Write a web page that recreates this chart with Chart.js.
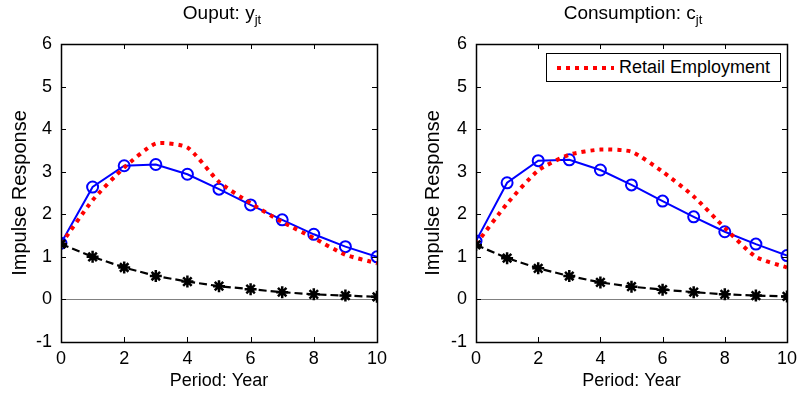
<!DOCTYPE html>
<html>
<head>
<meta charset="utf-8">
<script src="https://cdn.jsdelivr.net/npm/chart.js@4"></script>
<style>
  body { margin: 0; background: #fff; width: 803px; height: 394px; position: relative; overflow: hidden; font-family: "Liberation Sans", Arial, sans-serif; }
  .panel { position: absolute; top: 0; }
  .title { position: absolute; top: 2px; font-size: 19px; color: #000; text-align: center; white-space: nowrap; transform: translateX(-50%); }
  .title sub { font-size: 13px; }
  #legend { position: absolute; left: 546px; top: 53px; width: 233px; height: 27px; border: 1px solid #000; background: #fff; font-size: 18px; }
  #legend .swatch { position: absolute; left: 10px; top: 12px; width: 57px; height: 4px;
    background: repeating-linear-gradient(to right, #ff0000 0 4px, transparent 4px 9px); }
  #legend .txt { position: absolute; left: 72px; top: 3px; white-space: nowrap; }
</style>
</head>
<body>
<div class="panel" style="left:0"><canvas id="chartY" width="400" height="394"></canvas></div>
<div class="panel" style="left:400px"><canvas id="chartC" width="403" height="394"></canvas></div>
<div class="title" style="left:222px">Ouput: y<sub>jt</sub></div>
<div class="title" style="left:633px">Consumption: c<sub>jt</sub></div>
<div id="legend"><span class="swatch"></span><span class="txt">Retail Employment</span></div>
<script>
// periodes (annees)
const periods = [0, 1, 2, 3, 4, 5, 6, 7, 8, 9, 10];
const xTicks = [0, 2, 4, 6, 8, 10];
const yTicks = [-1, 0, 1, 2, 3, 4, 5, 6];

// panneau gauche: output
const outputModel = [1.32, 2.64, 3.14, 3.17, 2.94, 2.59, 2.22, 1.87, 1.53, 1.24, 1.0];
const outputRetail = [1.3, 2.33, 3.1, 3.66, 3.57, 2.76, 2.26, 1.82, 1.44, 1.05, 0.85];
const outputBench = [1.3, 1.0, 0.75, 0.55, 0.42, 0.31, 0.24, 0.17, 0.12, 0.09, 0.06];

// panneau droit: consumption
const consModel = [1.37, 2.74, 3.26, 3.28, 3.04, 2.69, 2.31, 1.94, 1.59, 1.3, 1.03];
const consRetail = [1.3, 2.25, 3.03, 3.4, 3.52, 3.47, 3.0, 2.42, 1.68, 1.0, 0.75];
const consBench = [1.28, 0.97, 0.73, 0.55, 0.4, 0.3, 0.23, 0.17, 0.12, 0.09, 0.07];

const font = "'Liberation Sans', Arial, sans-serif";

// boite + petites graduations vers l'interieur (style matlab)
const boxPlugin = {
  id: "box",
  afterDraw(chart) {
    const { ctx, chartArea: a, scales } = chart;
    ctx.save();
    ctx.strokeStyle = "#000";
    ctx.lineWidth = 1;
    ctx.beginPath();
    xTicks.forEach((v) => {
      const x = Math.round(scales.x.getPixelForValue(v)) + 0.5;
      ctx.moveTo(x, a.bottom); ctx.lineTo(x, a.bottom - 5);
      ctx.moveTo(x, a.top); ctx.lineTo(x, a.top + 5);
    });
    yTicks.forEach((v) => {
      const y = Math.round(scales.y.getPixelForValue(v)) + 0.5;
      ctx.moveTo(a.left, y); ctx.lineTo(a.left + 5, y);
      ctx.moveTo(a.right, y); ctx.lineTo(a.right - 5, y);
    });
    ctx.stroke();
    ctx.lineWidth = 1.5;
    ctx.strokeRect(Math.round(a.left) + 0.5, Math.round(a.top) + 0.5, Math.round(a.right - a.left), Math.round(a.bottom - a.top));
    ctx.restore();
  },
};

function makeChart(id, model, retail, bench, yWidth, titlePad, rightPad) {
  return new Chart(document.getElementById(id), {
    type: "line",
    data: {
      datasets: [
        {
          label: "Model",
          data: periods.map((p, i) => ({ x: p, y: model[i] })),
          borderColor: "#0000ff",
          borderWidth: 2,
          pointStyle: "circle",
          pointRadius: 5.5,
          pointBorderWidth: 2,
          pointBackgroundColor: "transparent",
          pointBorderColor: "#0000ff",
          order: 3,
        },
        {
          label: "Retail Employment",
          data: periods.map((p, i) => ({ x: p, y: retail[i] })),
          borderColor: "#ff0000",
          borderWidth: 4,
          borderDash: [4, 5],
          pointRadius: 0,
          tension: 0.2,
          order: 2,
        },
        {
          label: "Benchmark",
          data: periods.map((p, i) => ({ x: p, y: bench[i] })),
          borderColor: "#000",
          borderWidth: 2.2,
          borderDash: [8, 4],
          pointStyle: "star",
          pointRadius: 6,
          pointBorderWidth: 2.5,
          pointBorderColor: "#000",
          pointBackgroundColor: "#000",
          order: 1,
        },
      ],
    },
    options: {
      responsive: false,
      animation: false,
      layout: { padding: { top: 44, right: rightPad, bottom: 0, left: 0 } },
      plugins: { legend: { display: false }, tooltip: { enabled: false } },
      scales: {
        x: {
          type: "linear",
          min: 0,
          max: 10,
          afterFit: (s) => { s.height = 52; },
          afterBuildTicks: (s) => { s.ticks = xTicks.map((v) => ({ value: v })); },
          grid: { display: false, drawTicks: false },
          border: { display: false },
          ticks: { color: "#000", padding: 6, font: { family: font, size: 18 } },
          title: { display: true, text: "Period: Year", color: "#000", padding: { top: 0, bottom: 2 }, font: { family: font, size: 18 } },
        },
        y: {
          min: -1,
          max: 6,
          afterFit: (s) => { s.width = yWidth; },
          afterBuildTicks: (s) => { s.ticks = yTicks.map((v) => ({ value: v })); },
          grid: {
            drawTicks: false,
            color: (c) => (c.tick && c.tick.value === 0 ? "#808080" : "transparent"),
          },
          border: { display: false },
          ticks: { color: "#000", padding: 9, font: { family: font, size: 18 } },
          title: { display: true, text: "Impulse Response", color: "#000", padding: { top: titlePad, bottom: 0 }, font: { family: font, size: 20 } },
        },
      },
    },
    plugins: [boxPlugin],
  });
}

makeChart("chartY", outputModel, outputRetail, outputBench, 61, 8, 23);
makeChart("chartC", consModel, consRetail, consBench, 76, 21, 13);
</script>
</body>
</html>
